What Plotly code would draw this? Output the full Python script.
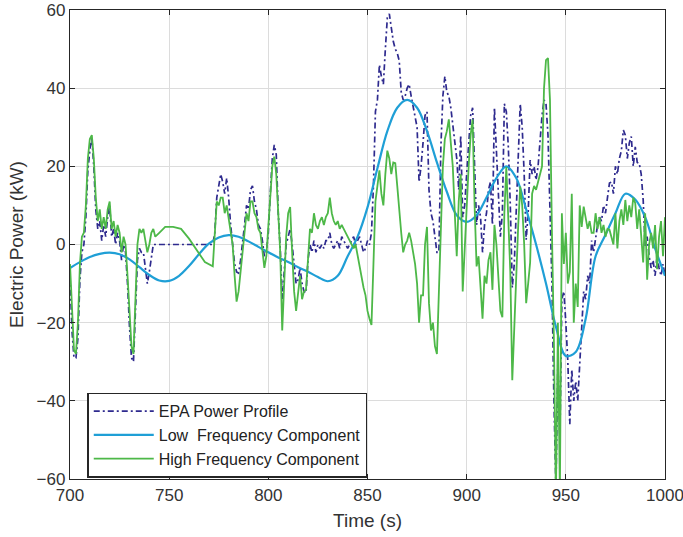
import plotly.graph_objects as go

# ---- data ----
t_fast = [700, 701, 702, 703, 704, 705, 706, 707, 708, 709, 710, 711, 712, 713, 714, 715, 716, 717, 718, 719,
          720, 721, 722, 723, 724, 725, 726, 727, 728, 729, 730, 731, 732, 733, 734, 735, 736, 737, 738, 739,
          740, 741, 742, 743, 745, 748, 752, 756, 760, 764, 768, 772, 773, 774, 775, 776, 777, 778, 779, 780,
          781, 782, 783, 784, 785, 786, 787, 788, 789, 790, 791, 792, 793, 794, 795, 796, 797, 798, 799, 800,
          801, 802, 803, 804, 805, 806, 807, 808, 809, 810, 811, 812, 813, 814, 815, 816, 817, 818, 819, 820,
          821, 822, 823, 824, 825, 826, 827, 828, 829, 830, 831, 832, 833, 834, 835, 836, 837, 838, 839, 840,
          841, 842, 843, 844, 845, 846, 847, 848, 849, 850, 851, 852, 853, 854, 855, 856, 857, 858, 859, 860,
          861, 862, 863, 864, 865, 866, 867, 868, 869, 870, 871, 872, 873, 874, 875, 876, 877, 878, 879, 880,
          881, 882, 883, 884, 885, 886, 887, 888, 889, 890, 891, 892, 893, 894, 895, 896, 897, 898, 899, 900,
          901, 902, 903, 904, 905, 906, 907, 908, 909, 910, 911, 912, 913, 914, 915, 916, 917, 918, 919, 920,
          921, 922, 923, 924, 925, 926, 927, 928, 929, 930, 931, 932, 933, 934, 935, 936, 937, 938, 939, 940,
          941, 942, 943, 944, 945, 946, 947, 948, 949, 950, 951, 952, 953, 954, 955, 956, 957, 958, 959, 960,
          961, 962, 963, 964, 965, 966, 967, 968, 969, 970, 971, 972, 973, 974, 975, 976, 977, 978, 979, 980,
          981, 982, 983, 984, 985, 986, 987, 988, 989, 990, 991, 992, 993, 994, 995, 996, 997, 998, 999, 1000]

epa_power = [-8, -22, -29, -29, -24, -9, -2, 0, 7, 19, 24, 27.5, 20, 9, 4, 6, 1, 5, 2, 7,
             10, 2, 4, 0, 3, 1, -4, 0, -2, -10, -21, -29, -30, -18, -4, -1, -2, -2, -6, -10,
             -7, -4, 0, 0, 0, 0, 0, 0, 0, 0, 0, 0, 3, 12, 15, 18, 16, 13, 17, 12,
             5, 0, -5, -7, -7.3, -4, 0, 5, 10, 9, 14, 15, 11, 9, 5, 4, 1, -3, -2, 3,
             13, 22, 25.5, 23, 8, -1, -14, -6, 0, 2, 4, 0, -6, -10, -9, -6, -10, -12, -12.4, -4,
             0, -2, 1, -2, 0, -1, 0, -1, 1, 1, 3, 0, -1, 0, 1, -1, 2, 1, 0, -1,
             0, 1, 2, 0, 1, 2, 0, -2, -1, 1, 0, 3, 15, 34, 37, 46, 43, 41, 50, 58,
             59, 55, 52, 50, 49, 47, 39, 37, 38, 40, 41, 38, 35, 33, 30, 16, 20, 26, 33, 34,
             14, 8, 6, 2, -2, -2, 25, 38, 43, 39, 38, 35, 31, 27, 22, 14, 28, 7, 10, 18,
             26, 33, 35, 20, 5, 10, 7, -2, 5, 8, 14, 16, 5, 35, 25, 12, 2, 8, 36, 34,
             25, 10, -11, -5, 8, 25, 36, 30, 18, 1.2, 8, 21.6, 18, 20, 16.5, 20, 28, 33, 37, 36,
             28, 10, -10, -40, -62, -30, -50, -14, -12, -20, -30, -46, -32, -40, -35, -40, -31, -22, -12, -14,
             -8, -10, 1, -2, 2, 5, 7, 6, 10, 8, 12, 15.7, 16, 13, 20, 18, 22, 24, 29.3, 28,
             22, 26, 27.6, 20, 25, 21, 20.8, 18, 11.4, -0.4, 2, -3, -6, -4, -8, -3, -6, -8, -5, -8]

high_freq = [-5, -18, -27, -28, -20, -5, 2, 3, 10, 22, 27, 28, 22, 12, 6, 9, 4, 7, 4, 9,
             11, 4, 6, 2, 5, 3, -2, 2, 0, -8, -18, -26, -28, -15, 0, 4, 3, 4, 1, -2,
             0, 3, 4, 2, 3, 4.5, 4.5, 4, 1.5, -1.5, -4.5, -5.6, 3, 11, 10, 12, 12, 8, 10, 7,
             3, 0, -8, -14.6, -12, -6, -2, 3, 8, 6, 11, 11, 8, 7, 4, 3, -2, -6, -3, 5,
             15, 20, 22.5, 18, 8, -2, -22, -8, 2, 8, 9.6, -2, -12, -17, -12, -8, -14, -12, -11.6, -4,
             4, 3, 8, 5, 4, 6, 7, 5, 7, 8, 12, 8, 6, 5, 6, 4, 5, 4, 3, 2,
             1, 0, -1, 0, -3, -6, -8, -11, -13, -17, -19, -20.6, -5, 11, 15, 19, 13, 10, 18, 24,
             22, 18, 21, 20.8, 15, 8, 3, -2, 0, 1, 3, 1, -2, -5, -10, -20, -13, -13, 0, 4.5,
             -15, -22, -20, -26, -28, -12, 5, 20, 27, 29, 32, 26, 20, 8, -3, 11, 18, -12, 0, 10,
             20, 28, 32, 10, -5.6, -3, -12, -19, -8, -10, -4, -2, -11.6, 5, 0, -8, -17, -18.6, 8, 19.8,
             5, -7, -34.7, -20, -9, 5, 14.8, 10, 0, -15, -10, -4.6, 13, 15, 14, 16, 17.3, 20, 40, 47.2,
             47.7, 37, 3, -25, -65, -20, -64, 8, -5, 3, -10, -7, 13, -20, -10, -16, 10, 4.5, 9.7, 7,
             4, 6, 3, 3, 8, 4, 7, 3, 5, 2, 4, 3.8, 2, 0, 8, -1, 6, 9, 5, 11.4,
             6, 10, 7, 12, 10.6, 4, 9, 2, -4.6, 8, -9, 0, 3, -1, 5, -6.3, 2, 6, -3, 7]

t_slow = [700, 705, 710, 715, 720, 725, 730, 735, 740, 745, 750, 755, 760, 765, 770, 775, 780, 785, 790, 795,
          800, 805, 810, 815, 820, 825, 830, 835, 840, 845, 850, 855, 860, 865, 870, 875, 880, 885, 890, 895,
          900, 905, 910, 915, 920, 925, 930, 935, 940, 945, 950, 955, 960, 965, 970, 975, 980, 985, 990, 995, 1000]
low_freq = [-6, -4.5, -3.2, -2.4, -2.1, -2.5, -3.8, -5.8, -7.8, -9.2, -9.3, -8.0, -5.5, -2.5, 0.2, 1.8, 2.4, 2.0, 0.8, -0.6,
            -2.0, -3.3, -4.5, -5.8, -7.0, -8.3, -9.4, -8.0, -3.0, 2.0, 9.5, 19.5, 29, 35, 37, 35, 29, 21, 13.5, 7.5,
            5.8, 7.5, 12, 17, 20, 17, 9, 0, -10, -21, -28.5, -27.5, -19, -3, 2.5, 8, 13, 11.5, 7, -1, -8]

x_ticks = [700, 750, 800, 850, 900, 950, 1000]
y_ticks = [-60, -40, -20, 0, 20, 40, 60]

# ---- figure ----
FONT = "Liberation Sans, Arial, sans-serif"
fig = go.Figure()
fig.add_trace(go.Scatter(x=t_fast, y=epa_power, mode="lines", name="EPA Power Profile",
                         line=dict(color="#2E2A8E", width=1.7, dash="6px,3px,2px,3px")))
fig.add_trace(go.Scatter(x=t_slow, y=low_freq, mode="lines", name="Low  Frequency Component",
                         line=dict(color="#1F9FD6", width=2.2, shape="spline", smoothing=1.0)))
fig.add_trace(go.Scatter(x=t_fast, y=high_freq, mode="lines", name="High Frequency Component",
                         line=dict(color="#4DB848", width=1.8)))

axis_common = dict(showline=True, linecolor="#262626", linewidth=1.3, mirror="ticks",
                   ticks="inside", ticklen=5, tickcolor="#262626", tickwidth=1.3,
                   showgrid=True, gridcolor="#DCDCDC", gridwidth=1, zeroline=False,
                   automargin=False, ticklabeloverflow="allow",
                   tickfont=dict(family=FONT, size=17, color="#333333"))

fig.update_xaxes(range=[700, 1000], tickvals=x_ticks, **axis_common,
                 title=dict(text="Time (s)", font=dict(family=FONT, size=19, color="#333333"), standoff=10))
fig.update_yaxes(range=[-60, 60], tickvals=y_ticks, **axis_common,
                 title=dict(text="Electric Power (kW)", font=dict(family=FONT, size=19, color="#333333"), standoff=7))

fig.update_layout(
    width=683, height=537,
    margin=dict(l=70, r=18, t=10, b=58),
    plot_bgcolor="white", paper_bgcolor="white",
    legend=dict(x=0.029, y=0.184, xanchor="left", yanchor="top",
                bgcolor="white", bordercolor="#262626", borderwidth=1.5,
                font=dict(family=FONT, size=16, color="#222222"),
                itemwidth=60, tracegroupgap=0),
)

fig.write_html("out.html", config={"displayModeBar": False},
               post_script="document.body.style.margin='0';")
